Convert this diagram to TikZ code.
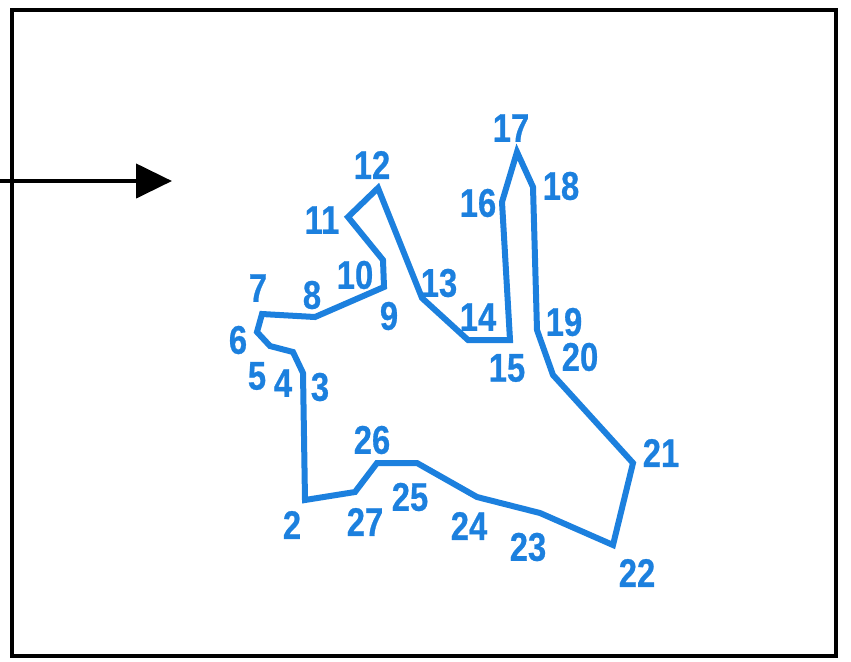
\documentclass[tikz,border=0pt]{standalone}
\usepackage{fontspec}
\setmainfont{Liberation Sans}
\newfontfamily\lblfont[FakeStretch=0.82,FakeBold=0.6]{Liberation Sans}
\usetikzlibrary{arrows.meta}
\definecolor{polyblue}{RGB}{28,128,222}
\begin{document}
\begin{tikzpicture}[x=0.5pt,y=-0.5pt,
  lbl/.style={text=polyblue,font=\lblfont\bfseries\fontsize{20}{20}\selectfont,inner sep=0pt,anchor=center},
  poly/.style={draw=polyblue,line width=3pt,line join=miter},
  frame/.style={draw=black,line width=2.4pt}]
\useasboundingbox (0,0) rectangle (851,661);
\draw[frame] (12,10) rectangle (836,656);
% arrow
\coordinate (a0) at (0,181);
\coordinate (a1) at (172,181);
\draw[line width=2.2pt,-{Triangle[length=18pt,width=17pt]}] (a0) -- (a1);
% vertices
\coordinate (p2) at (305,500);
\coordinate (p3) at (303,373);
\coordinate (p4) at (293,352);
\coordinate (p5) at (270,346);
\coordinate (p6) at (257,332);
\coordinate (p7) at (262,314);
\coordinate (p8) at (315,317);
\coordinate (p9) at (384,287);
\coordinate (p10) at (383,260);
\coordinate (p11) at (348,217);
\coordinate (p12) at (378,188);
\coordinate (p13) at (422,298);
\coordinate (p14) at (468,340);
\coordinate (p15) at (510,340);
\coordinate (p16) at (502,202);
\coordinate (p17) at (517,152);
\coordinate (p18) at (533,187);
\coordinate (p19) at (537,330);
\coordinate (p20) at (553,375);
\coordinate (p21) at (633,463);
\coordinate (p22) at (613,545);
\coordinate (p23) at (540,513);
\coordinate (p24) at (477,497);
\coordinate (p25) at (417,463);
\coordinate (p26) at (377,463);
\coordinate (p27) at (355,492);
\draw[poly] (p2) -- (p3) -- (p4) -- (p5) -- (p6) -- (p7) -- (p8) -- (p9) -- (p10) -- (p11) -- (p12) -- (p13) -- (p14) -- (p15) -- (p16) -- (p17) -- (p18) -- (p19) -- (p20) -- (p21) -- (p22) -- (p23) -- (p24) -- (p25) -- (p26) -- (p27) -- cycle;
% labels
\node[lbl] (l2) at (292,525) {2};
\node[lbl] (l3) at (320,387) {3};
\node[lbl] (l4) at (283,383) {4};
\node[lbl] (l5) at (257,376) {5};
\node[lbl] (l6) at (238,340) {6};
\node[lbl] (l7) at (258,288) {7};
\node[lbl] (l8) at (312,295) {8};
\node[lbl] (l9) at (389,316) {9};
\node[lbl] (l10) at (355,275) {10};
\node[lbl] (l11) at (322,220) {11};
\node[lbl] (l12) at (372,165) {12};
\node[lbl] (l13) at (439,283) {13};
\node[lbl] (l14) at (478,317) {14};
\node[lbl] (l15) at (507,368) {15};
\node[lbl] (l16) at (478,203) {16};
\node[lbl] (l17) at (511,128) {17};
\node[lbl] (l18) at (561,186) {18};
\node[lbl] (l19) at (564,322) {19};
\node[lbl] (l20) at (580,357) {20};
\node[lbl] (l21) at (661,453) {21};
\node[lbl] (l22) at (637,573) {22};
\node[lbl] (l23) at (528,547) {23};
\node[lbl] (l24) at (469,526) {24};
\node[lbl] (l25) at (410,497) {25};
\node[lbl] (l26) at (372,440) {26};
\node[lbl] (l27) at (365,522) {27};
\end{tikzpicture}
\end{document}
